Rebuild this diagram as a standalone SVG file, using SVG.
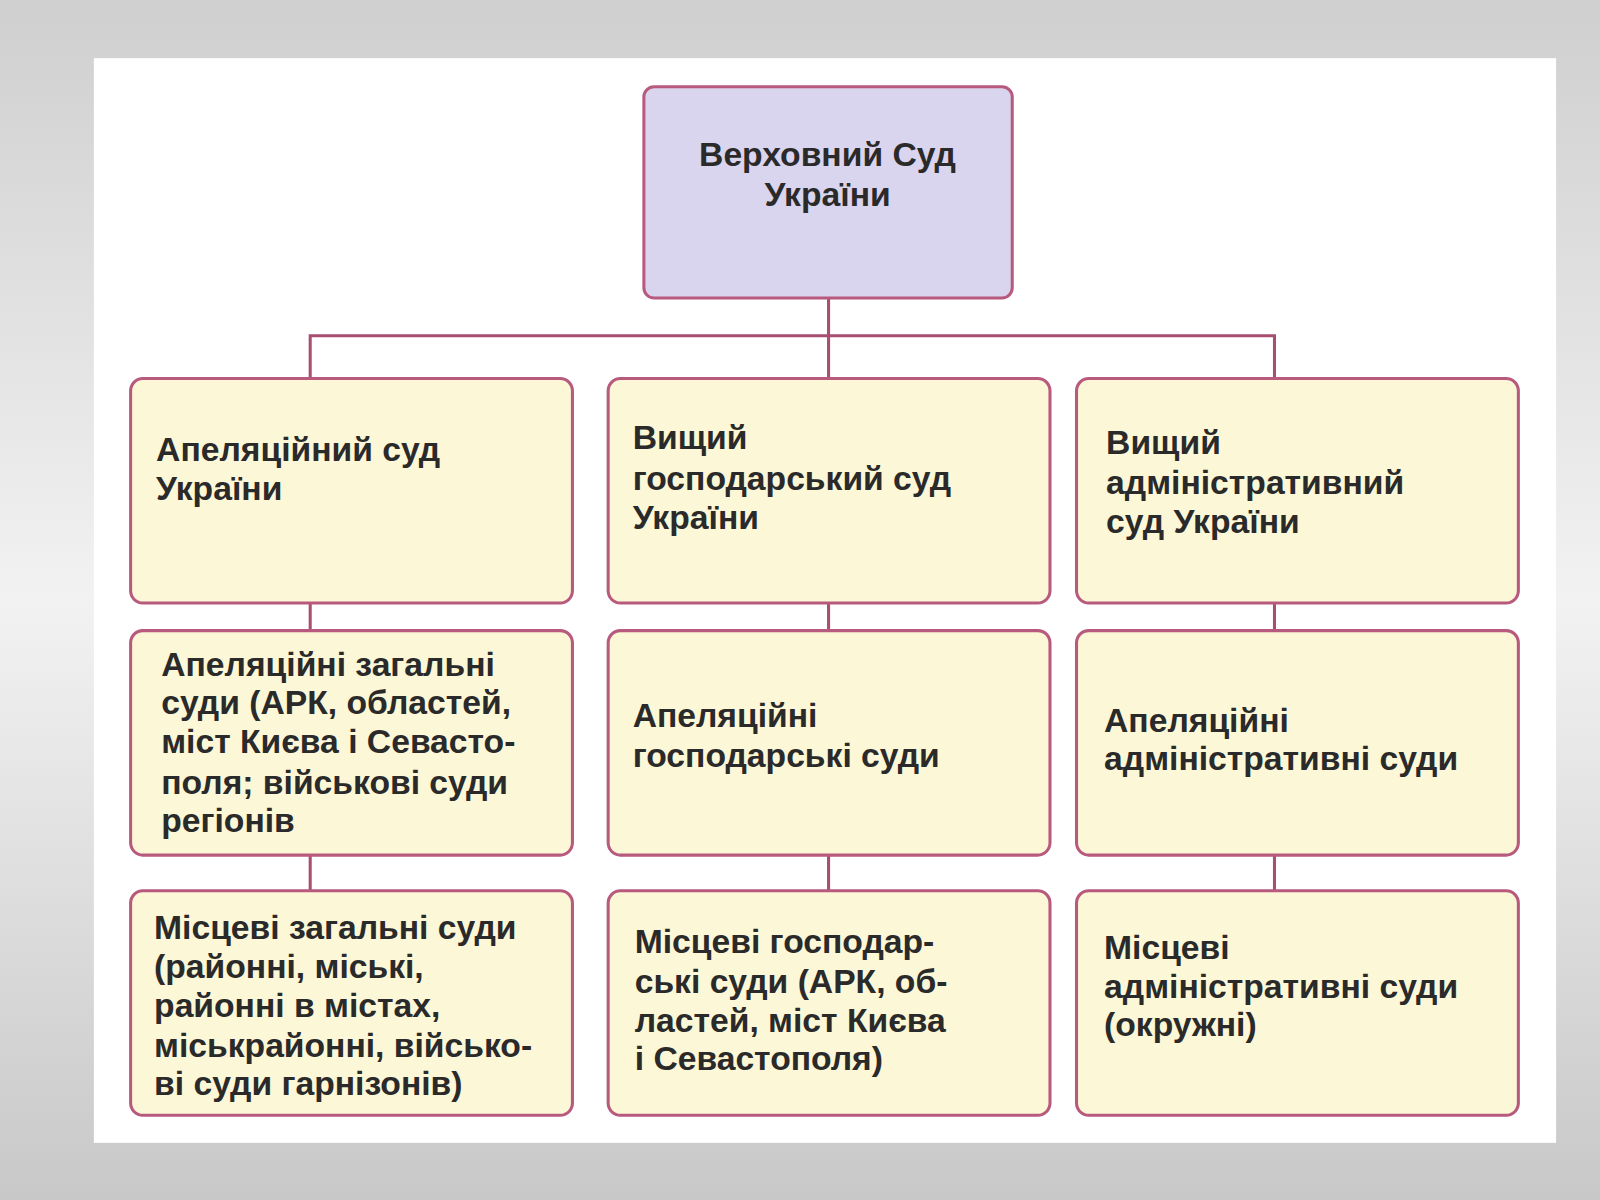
<svg xmlns="http://www.w3.org/2000/svg" width="1600" height="1200" viewBox="0 0 1600 1200">
<defs>
<linearGradient id="bg" x1="0" y1="0" x2="0" y2="1"><stop offset="0" stop-color="#cfcfcf"/><stop offset="0.5" stop-color="#f2f2f2"/><stop offset="1" stop-color="#c8c8c8"/></linearGradient>
</defs>
<style>
.b{fill:#fcf7d6;stroke:#b85a7e;stroke-width:3}
.t{fill:#dad5ee;stroke:#b85a7e;stroke-width:3}
.c{stroke:#a84e70;stroke-width:3;fill:none}
text{font-family:"Liberation Sans",Arial,sans-serif;font-size:33px;fill:#2a2a2a;font-weight:bold}
</style>
<rect width="1600" height="1200" fill="url(#bg)"/>
<g transform="scale(1.0204)">
<rect x="92" y="57" width="1433" height="1063" fill="#fff"/>
<g id="connectors">
<path class="c" d="M812 292V371M304 371V329H1249V371M304 591V618M812 591V618M1249 591V618M304 838V873M812 838V873M1249 838V873"/>
</g>
<g id="top"><rect class="t" x="631" y="85" width="361" height="207" rx="10"/>
<text x="811" y="163" text-anchor="middle" font-size="36">Верховний Суд</text><text x="811" y="202" text-anchor="middle" font-size="36">України</text></g>
<g id="r1a"><rect class="b" x="128" y="371" width="433" height="220" rx="12"/><text x="153" y="452">Апеляційний суд</text><text x="153" y="490">України</text></g>
<g id="r1b"><rect class="b" x="596" y="371" width="433" height="220" rx="12"/><text x="620" y="440">Вищий</text><text x="620" y="480">господарський суд</text><text x="620" y="518">України</text></g>
<g id="r1c"><rect class="b" x="1055" y="371" width="433" height="220" rx="12"/><text x="1084" y="445">Вищий</text><text x="1084" y="484">адміністративний</text><text x="1084" y="522">суд України</text></g>
<g id="r2a"><rect class="b" x="128" y="618" width="433" height="220" rx="12"/><text x="158" y="662">Апеляційні загальні</text><text x="158" y="700">суди (АРК, областей,</text><text x="158" y="738">міст Києва і Севасто-</text><text x="158" y="778">поля; військові суди</text><text x="158" y="815">регіонів</text></g>
<g id="r2b"><rect class="b" x="596" y="618" width="433" height="220" rx="12"/><text x="620" y="712">Апеляційні</text><text x="620" y="752">господарські суди</text></g>
<g id="r2c"><rect class="b" x="1055" y="618" width="433" height="220" rx="12"/><text x="1082" y="717">Апеляційні</text><text x="1082" y="755">адміністративні суди</text></g>
<g id="r3a"><rect class="b" x="128" y="873" width="433" height="220" rx="12"/><text x="151" y="920">Місцеві загальні суди</text><text x="151" y="958">(районні, міські,</text><text x="151" y="997">районні в містах,</text><text x="151" y="1036">міськрайонні, військо-</text><text x="151" y="1073">ві суди гарнізонів)</text></g>
<g id="r3b"><rect class="b" x="596" y="873" width="433" height="220" rx="12"/><text x="622" y="934">Місцеві господар-</text><text x="622" y="973">ські суди (АРК, об-</text><text x="622" y="1011">ластей, міст Києва</text><text x="622" y="1049">і Севастополя)</text></g>
<g id="r3c"><rect class="b" x="1055" y="873" width="433" height="220" rx="12"/><text x="1082" y="940">Місцеві</text><text x="1082" y="978">адміністративні суди</text><text x="1082" y="1015">(окружні)</text></g>
</g>
</svg>
